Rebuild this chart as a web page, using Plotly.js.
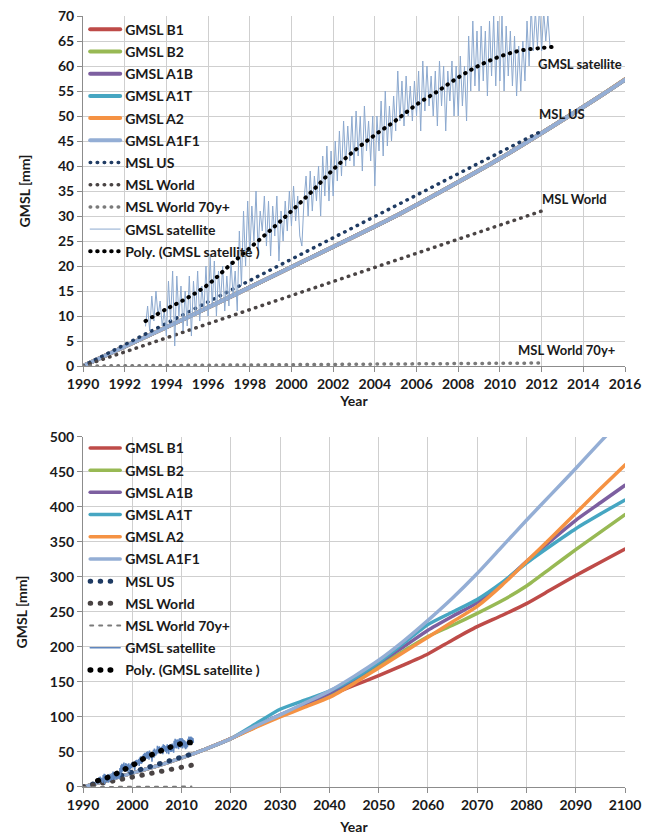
<!DOCTYPE html>
<html>
<head>
<meta charset="utf-8">
<script src="https://cdn.plot.ly/plotly-3.0.1.min.js"></script>
<style>
html,body{margin:0;padding:0;background:#fff;}
#chart{width:647px;height:835px;}
#chart path.js-line{stroke-linecap:round;}
</style>
</head>
<body>
<div id="chart"></div>
<script>
// ---------- DATA ----------
const scenYears = [1990,1995,2000,2005,2010,2015,2020,2025,2030,2035,2040,2045,2050,2055,2060,2065,2070,2075,2080,2085,2090,2095,2100];
const gmslB1   = [0,9.7,19.8,30,41.5,54.5,69,86,102,117,131,145,159,174,190,210,229,245,262,282,302,321,340];
const gmslB2   = [0,9.7,19.8,30,41.5,54.5,69,86,102,117,132,151,173,194,215,231,248,266,287,313,339,364,389];
const gmslA1B  = [0,9.7,19.8,30,41.5,54.5,69,87,103,118,134,154,177,200,224,244,263,290,322,352,381,406,431];
const gmslA1T  = [0,9.7,19.8,30,41.5,54.5,69,90,111,124,137,155,178,205,232,250,268,292,320,345,369,390,410];
const gmslA2   = [0,9.7,19.8,30,41.5,54.5,69,85,100,114,128,148,170,192,214,236,258,288,322,356,391,426,460];
const gmslA1F1 = [0,9.7,19.8,30,41.5,54.5,69,87,103,120,137,158,181,208,238,270,305,343,381,418,455,493,530];

const mslYears   = [1990, 2012];
const mslUS      = [0, 47];
const mslWorld   = [0, 31];
const mslWorld70 = [0, 0.6];

const polyYears = [1993,1994,1995,1996,1997,1998,1999,2000,2001,2002,2003,2004,2005,2006,2007,2008,2009,2010,2011,2012,2012.5];
const polySat   = [9,11.4,13.6,16.3,20,23.6,27.2,31,35,39.3,43,46.2,49.1,52.3,54.9,57.7,60.1,61.9,63.1,63.6,63.8];

// satellite series: sampled every 0.1 year starting 1993.0
const satStart = 1993.0, satStep = 0.1;
const satGMSL = [
  8,12,7,14,9,15,10,13,8,11,
  6,17,9,19,4,18,10,16,7,15,
  8,18,6,17,10,19,9,16,11,20,
  10,22,12,21,10,19,13,20,11,18,
  12,21,14,19,11,27,16,31,20,33,
  22,32,25,35,23,31,27,34,24,33,
  22,32,26,34,21,31,25,33,27,35,
  28,36,29,34,26,24,33,38,30,39,
  31,38,33,40,30,42,34,44,33,43,
  34,45,37,47,38,49,40,48,41,50,
  40,51,42,50,39,52,43,49,41,50,
  36,50,43,53,42,55,44,52,45,54,
  47,59,49,57,48,58,50,56,49,57,
  50,59,47,61,51,60,52,58,50,59,
  48,61,52,60,47,59,53,61,50,60,
  50,62,52,60,49,66,55,69,56,67,
  55,68,57,67,54,69,58,70,56,69,
  57,70,55,68,58,67,56,66,54,64,
  55,65,57,69,60,72,63,71,64,72,
  63,71,65,70,64
];
const satYears = satGMSL.map((v,i)=>+(satStart + i*satStep).toFixed(2));

const labelTexts = ["GMSL satellite","MSL US","MSL World","MSL World 70y+"];
const labelX = [2013.85, 2013.0, 2013.6, 2013.2];
const labelY = [60.5, 50.5, 33.5, 3.2];

// ---------- STYLE ----------
const FONT = "Lato, 'Open Sans', sans-serif";
const colors = {B1:'#BE4B48', B2:'#98B954', A1B:'#7D5FA0', A1T:'#46A6C2', A2:'#F59243', A1F1:'#94AED5',
                US:'#1F3B63', W:'#4A4444', W70:'#7A7A7A', SAT:'#8CA9CF', POLY:'#000000'};

function makeTraces(xa, ya, lg, big){
  const w = big ? 3.5 : 4;
  const dotDash = big ? '0.5px,9.5px' : '0.5px,6.5px';
  const dotW = big ? 5 : 3.5;
  const scen = [
    ['GMSL B1', gmslB1, colors.B1],
    ['GMSL B2', gmslB2, colors.B2],
    ['GMSL A1B', gmslA1B, colors.A1B],
    ['GMSL A1T', gmslA1T, colors.A1T],
    ['GMSL A2', gmslA2, colors.A2],
    ['GMSL A1F1', gmslA1F1, colors.A1F1]
  ];
  const t = [];
  scen.forEach(s=>{
    t.push({x:scenYears, y:s[1], name:s[0], type:'scatter', mode:'lines', xaxis:xa, yaxis:ya, legend:lg,
      legendgroup:lg+s[0], line:{color:s[2], width:w, shape:'spline', smoothing:0.6}});
  });
  t.push({x:mslYears, y:mslUS, name:'MSL US', type:'scatter', mode:'lines', xaxis:xa, yaxis:ya, legend:lg,
    legendgroup:lg+'us', line:{color:colors.US, width:dotW, dash:dotDash}});
  t.push({x:mslYears, y:mslWorld, name:'MSL World', type:'scatter', mode:'lines', xaxis:xa, yaxis:ya, legend:lg,
    legendgroup:lg+'w', line:{color:colors.W, width:dotW, dash:dotDash}});
  t.push({x:mslYears, y:mslWorld70, name:'MSL World 70y+', type:'scatter', mode:'lines', xaxis:xa, yaxis:ya, legend:lg,
    legendgroup:lg+'w70', line:{color:colors.W70, width:big?2:dotW, dash:big?'3px,6px':dotDash}});
  t.push({x:satYears, y:satGMSL, name:'GMSL satellite', type:'scatter', mode:'lines', xaxis:xa, yaxis:ya, legend:lg,
    legendgroup:lg+'sat', line:{color:big?'#5F86BE':colors.SAT, width:big?1.5:1}});
  t.push({x:polyYears, y:polySat, name:'Poly. (GMSL satellite )', type:'scatter', mode:'lines', xaxis:xa, yaxis:ya, legend:lg,
    legendgroup:lg+'poly', line:{color:colors.POLY, width:big?5.5:4, dash:dotDash, shape:'spline'}});
  return t;
}

const data = makeTraces('x','y','legend',false).concat(makeTraces('x2','y2','legend2',true));

const tickFont = {family:FONT, size:14, color:'#1a1a1a', weight:'bold'};
const titleFont = {family:FONT, size:14, color:'#1a1a1a', weight:'bold'};
const axCommon = {showgrid:true, gridcolor:'#CFCFCF', gridwidth:1, showline:true, linecolor:'#8C8C8C', linewidth:1,
  ticks:'outside', ticklen:5, tickcolor:'#8C8C8C', tickfont:tickFont, zeroline:false, fixedrange:true};

const legendCommon = {bgcolor:'rgba(0,0,0,0)', borderwidth:0, font:{family:FONT, size:14, color:'#1a1a1a', weight:'bold'},
  tracegroupgap:1, traceorder:'grouped', xanchor:'left', yanchor:'top', itemclick:false};

const annotations = labelTexts.map((txt,i)=>({x:labelX[i], y:labelY[i], xref:'x', yref:'y', text:txt, showarrow:false,
  font:{family:FONT, size:13, color:'#1a1a1a', weight:'bold'}}));

const layout = {
  width:647, height:835, paper_bgcolor:'#fff', plot_bgcolor:'#fff', showlegend:true,
  margin:{l:83, r:22, t:16, b:48},
  xaxis: Object.assign({}, axCommon, {range:[1990,2016], dtick:2, tick0:1990, domain:[0,1], anchor:'y',
    title:{text:'Year', font:titleFont, standoff:4}}),
  yaxis: Object.assign({}, axCommon, {range:[0,70], dtick:5, tick0:0, domain:[0.546,1], anchor:'x',
    title:{text:'GMSL [mm]', font:titleFont, standoff:24}}),
  xaxis2: Object.assign({}, axCommon, {range:[1990,2100], dtick:10, tick0:1990, domain:[0,1], anchor:'y2',
    title:{text:'Year', font:titleFont, standoff:10}}),
  yaxis2: Object.assign({}, axCommon, {range:[0,500], dtick:50, tick0:0, domain:[0,0.454], anchor:'x2',
    title:{text:'GMSL [mm]', font:titleFont, standoff:18}}),
  legend: Object.assign({}, legendCommon, {x:0.004, y:1.003}),
  legend2: Object.assign({}, legendCommon, {x:0.004, y:0.4600}),
  annotations: annotations
};

Plotly.newPlot('chart', data, layout, {displayModeBar:false, staticPlot:true});
</script>
</body>
</html>
